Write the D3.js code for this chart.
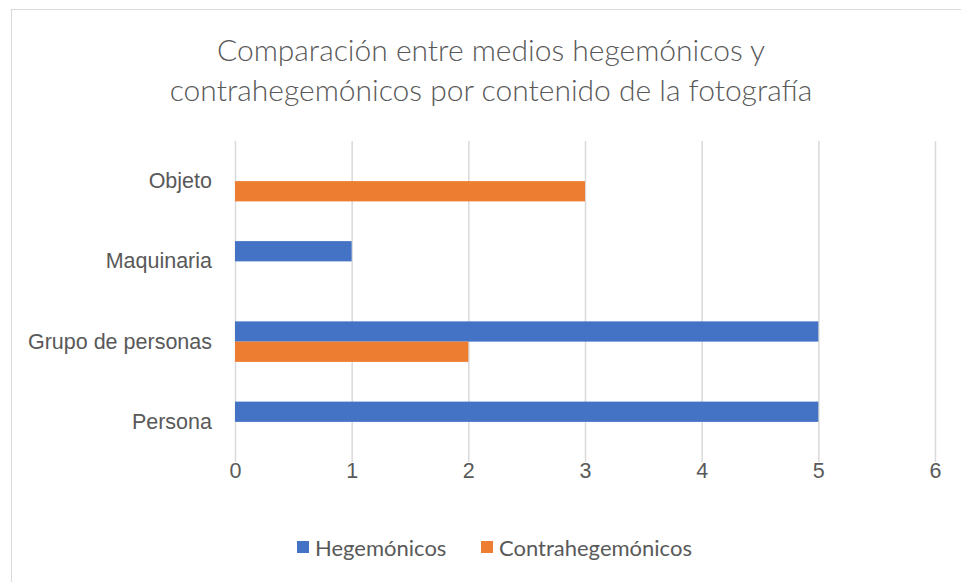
<!DOCTYPE html>
<html>
<head>
<meta charset="utf-8">
<script src="https://cdn.jsdelivr.net/npm/d3@7"></script>
<style>
  body { margin: 0; background: #fff; }
  svg { display: block; font-family: Lato, "Open Sans", sans-serif; }
  .title { fill: #595959; font-size: 30px; font-weight: 300; }
  .axis text { fill: #595959; font-size: 21.5px; }
  .legend text { fill: #595959; font-size: 22px; }
</style>
</head>
<body>
<svg class="graphic"></svg>
<script>
const categories = ["Objeto", "Maquinaria", "Grupo de personas", "Persona"];
const seriesNames = ["Hegemónicos", "Contrahegemónicos"];
const hegemonicos = [0, 1, 5, 5];
const contrahegemonicos = [3, 0, 2, 0];
const xTicks = [0, 1, 2, 3, 4, 5, 6];
const titleLines = ["Comparación entre medios hegemónicos y", "contrahegemónicos por contenido de la fotografía"];
const colors = ["#4472C4", "#ED7D31"];

const WIDTH = 961, HEIGHT = 582;
const MARGIN = { top: 141, right: 26, bottom: 120, left: 235 };

const $svg = d3.select('.graphic')
    .attr('width', WIDTH)
    .attr('height', HEIGHT);

function drawChart() {
    const w = WIDTH - MARGIN.left - MARGIN.right;
    const h = HEIGHT - MARGIN.top - MARGIN.bottom;

    // chart border
    $svg.append('rect')
        .attr('x', 11.5).attr('y', 9.5)
        .attr('width', 1000).attr('height', 1000)
        .attr('fill', 'none')
        .attr('stroke', '#d9d9d9');

    // title
    $svg.append('text')
        .attr('class', 'title')
        .attr('text-anchor', 'middle')
        .selectAll('tspan')
        .data(titleLines)
        .join('tspan')
        .attr('x', 491)
        .attr('y', (d, i) => 61 + i * 40)
        .text(d => d);

    const g = $svg.append('g')
        .attr('transform', `translate(${MARGIN.left},${MARGIN.top})`);

    const x = d3.scaleLinear().domain([0, 6]).range([0, w]);
    const y = d3.scaleBand().domain(categories).range([0, h])
        .paddingInner(0.495).paddingOuter(0.2475);
    const ySub = d3.scaleBand().domain(seriesNames).range([0, y.bandwidth()]);

    // vertical gridlines + tick labels
    g.append('g')
        .attr('class', 'x axis')
        .attr('transform', `translate(0,${h})`)
        .call(d3.axisBottom(x)
            .tickValues(xTicks)
            .tickSizeInner(-h)
            .tickSizeOuter(0)
            .tickPadding(8)
            .tickFormat(d3.format('d')))
        .call(g => g.select('.domain').remove())
        .call(g => g.selectAll('.tick line').attr('stroke', '#d9d9d9').attr('stroke-width', 1.5))
        .call(g => g.selectAll('.tick text').attr('dy', '0.35em'));

    // category labels
    g.append('g')
        .attr('class', 'y axis')
        .call(d3.axisLeft(y).tickSize(0).tickPadding(23))
        .call(g => g.select('.domain').remove());

    const rows = categories.map((c, i) => ({
        cat: c,
        vals: [hegemonicos[i], contrahegemonicos[i]]
    }));

    const groups = g.selectAll('.row')
        .data(rows)
        .join('g')
        .attr('class', 'row')
        .attr('transform', d => `translate(0,${y(d.cat)})`);

    groups.selectAll('rect')
        .data(d => d.vals.map((v, k) => ({ name: seriesNames[k], value: v, k: k })))
        .join('rect')
        .attr('x', x(0))
        .attr('y', d => ySub(d.name))
        .attr('width', d => x(d.value) - x(0))
        .attr('height', ySub.bandwidth())
        .attr('fill', d => colors[d.k]);

    // legend
    const legend = $svg.append('g').attr('class', 'legend');
    const legendX = [297, 481];
    seriesNames.forEach((name, i) => {
        legend.append('rect')
            .attr('x', legendX[i]).attr('y', 541)
            .attr('width', 12).attr('height', 12)
            .attr('fill', colors[i]);
        legend.append('text')
            .attr('x', legendX[i] + 18).attr('y', 548)
            .attr('dy', '0.35em')
            .text(name);
    });
}

drawChart();
</script>
</body>
</html>
